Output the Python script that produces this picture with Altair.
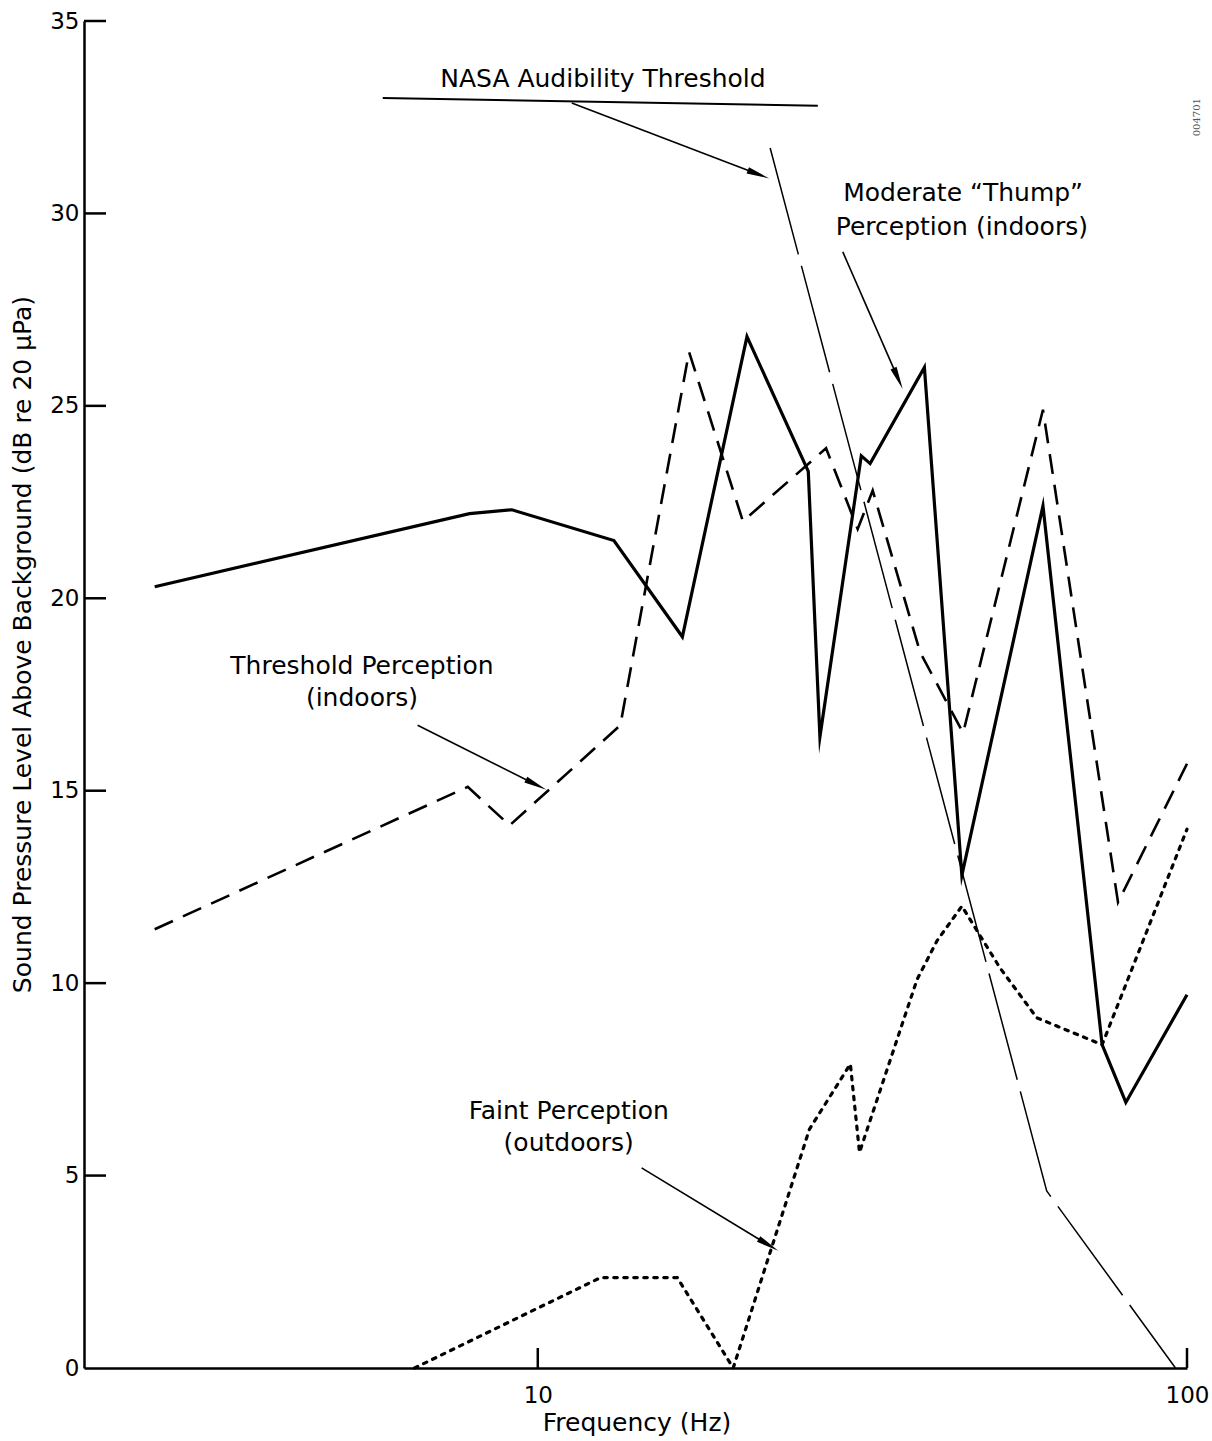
import math
import altair as alt
import pandas as pd

# Moderate "Thump" perception (indoors) - heavy solid curve
thump_hz = [2.57, 7.85, 9.12, 13.1, 16.7, 21.0, 26.1, 27.2, 31.5, 32.5, 39.4, 45.0, 60.0, 74.0, 80.5, 100.0]
thump_db = [20.3, 22.2, 22.3, 21.5, 19.0, 26.8, 23.3, 16.4, 23.7, 23.5, 26.0, 12.8, 22.4, 8.4, 6.9, 9.7]

# Threshold perception (indoors) - dashed curve
threshold_hz = [2.57, 7.8, 9.05, 13.4, 17.1, 20.7, 27.8, 31.1, 32.8, 38.8, 45.2, 60.0, 78.3, 100.0]
threshold_db = [11.4, 15.1, 14.1, 16.7, 26.4, 22.0, 23.9, 21.8, 22.8, 18.6, 16.5, 24.9, 12.1, 15.7]

# Faint perception (outdoors) - dotted curve
faint_hz = [6.46, 12.5, 16.4, 20.0, 26.2, 30.3, 31.3, 35.7, 38.4, 41.2, 45.0, 51.5, 58.7, 74.0, 100.0]
faint_db = [0.0, 2.35, 2.35, 0.0, 6.2, 7.9, 5.6, 8.5, 10.1, 11.1, 12.0, 10.4, 9.1, 8.4, 14.0]

# Thin long-dash curve falling through the plot
thin_hz = [22.8, 60.8, 96.0]
thin_db = [31.7, 4.6, 0.0]

# NASA audibility threshold level
nasa_hz = [5.77, 27.0]
nasa_db = [33.0, 32.8]

# Annotation labels (text, frequency, level)
label_text = ["NASA Audibility Threshold",
              "Moderate \u201cThump\u201d", "Perception (indoors)",
              "Threshold Perception", "(indoors)",
              "Faint Perception", "(outdoors)"]
label_hz = [12.6, 45.2, 45.0, 5.36, 5.36, 11.16, 11.16]
label_db = [33.5, 30.53, 29.64, 18.24, 17.4, 6.68, 5.85]

# Leader arrows: start and end points
arrow_hz0 = [11.28, 29.5, 6.53, 14.45]
arrow_db0 = [32.87, 29.0, 16.7, 5.2]
arrow_hz1 = [21.6, 35.7, 9.82, 22.4]
arrow_db1 = [31.05, 25.8, 15.2, 3.25]

y_ticks = [0, 5, 10, 15, 20, 25, 30, 35]
x_ticks = [10, 100]

W, H = 1103, 1347
X_MIN, X_MAX = 2.0, 100.0
Y_MIN, Y_MAX = 0.0, 35.0
FONT = "DejaVu Sans"
X_TITLE = "Frequency (Hz)"
Y_TITLE = "Sound Pressure Level Above Background (dB re 20 \u03bcPa)"

xs = alt.Scale(type="log", domain=[X_MIN, X_MAX], nice=False)
ys = alt.Scale(domain=[Y_MIN, Y_MAX], nice=False)

x_axis = alt.Axis(
    values=x_ticks, ticks=False, tickSize=0, grid=False, title=X_TITLE,
    labelFontSize=23, labelFont=FONT, labelColor="black", labelPadding=16,
    labelFlush=False, labelOverlap=False,
    titleFontSize=25, titleFont=FONT, titleFontWeight="normal", titleColor="black",
    titleX=W / 2 + 1, titleY=54, titleBaseline="middle",
    domainColor="black", domainWidth=2.5,
)
y_axis = alt.Axis(
    values=y_ticks, ticks=False, tickSize=0, grid=False, title=Y_TITLE,
    labelFontSize=23, labelFont=FONT, labelColor="black", labelPadding=5,
    labelFlush=False, labelOverlap=False,
    titleFontSize=25, titleFont=FONT, titleFontWeight="normal", titleColor="black",
    titleX=-62, titleY=623, titleAngle=270, titleBaseline="middle", titleAlign="center",
    domainColor="black", domainWidth=2.5,
)


def xenc(field="f"):
    return alt.X(f"{field}:Q", scale=xs, axis=x_axis, title=X_TITLE)


def yenc(field="db"):
    return alt.Y(f"{field}:Q", scale=ys, axis=y_axis, title=Y_TITLE)


def series(hz, db):
    return pd.DataFrame({"f": hz, "db": db, "i": range(len(hz))})


thump = alt.Chart(series(thump_hz, thump_db)).mark_line(
    color="black", strokeWidth=3.2, strokeJoin="miter", strokeMiterLimit=20
).encode(x=xenc(), y=yenc(), order="i:Q")

threshold = alt.Chart(series(threshold_hz, threshold_db)).mark_line(
    color="black", strokeWidth=2.6, strokeDash=[20, 11]
).encode(x=xenc(), y=yenc(), order="i:Q")

faint = alt.Chart(series(faint_hz, faint_db)).mark_line(
    color="black", strokeWidth=3.2, strokeDash=[3.5, 6.5], strokeCap="round"
).encode(x=xenc(), y=yenc(), order="i:Q")

thin = alt.Chart(series(thin_hz, thin_db)).mark_line(
    color="black", strokeWidth=1.5, strokeDash=[110, 12]
).encode(x=xenc(), y=yenc(), order="i:Q")

nasa = alt.Chart(series(nasa_hz, nasa_db)).mark_line(
    color="black", strokeWidth=2
).encode(x=xenc(), y=yenc(), order="i:Q")


# Arrow heads are rotated to follow each leader line on screen
def px(f):
    return W * (math.log10(f) - math.log10(X_MIN)) / (math.log10(X_MAX) - math.log10(X_MIN))


def py(v):
    return H * (1 - (v - Y_MIN) / (Y_MAX - Y_MIN))


angles = []
for a0, b0, a1, b1 in zip(arrow_hz0, arrow_db0, arrow_hz1, arrow_db1):
    dx = px(a1) - px(a0)
    dy = py(b1) - py(b0)
    angles.append((math.degrees(math.atan2(dx, -dy)) + 360) % 360)

arrows_df = pd.DataFrame({
    "f": arrow_hz0, "db": arrow_db0, "f1": arrow_hz1, "db1": arrow_db1, "ang": angles
})

shafts = alt.Chart(arrows_df).mark_rule(color="black", strokeWidth=1.6).encode(
    x=xenc("f"), y=yenc("db"), x2="f1:Q", y2="db1:Q"
)
heads = alt.Chart(arrows_df).mark_point(
    shape="wedge", filled=True, color="black", opacity=1, size=700
).encode(x=xenc("f1"), y=yenc("db1"), angle=alt.Angle("ang:Q", scale=None))

labels = alt.Chart(pd.DataFrame({"t": label_text, "f": label_hz, "db": label_db})).mark_text(
    font=FONT, fontSize=25, color="black", align="center", baseline="middle"
).encode(x=xenc(), y=yenc(), text="t:N")

tag = alt.Chart(pd.DataFrame({"t": ["004701"], "f": [103.6], "db": [32.5]})).mark_text(
    font="DejaVu Serif", fontSize=10, color="#555555", angle=270, baseline="middle"
).encode(x=xenc(), y=yenc(), text="t:N")

# Inward-pointing tick marks on both axes
ytick_marks = alt.Chart(pd.DataFrame({"db": y_ticks[1:]})).mark_rule(
    color="black", strokeWidth=2.5
).encode(y=yenc(), x=alt.value(0), x2=alt.value(22))

xtick_marks = alt.Chart(pd.DataFrame({"f": x_ticks})).mark_rule(
    color="black", strokeWidth=2.5
).encode(x=xenc(), y=alt.value(H), y2=alt.value(H - 20))

chart = alt.layer(
    nasa, thin, threshold, faint, thump, shafts, heads,
    labels, tag, ytick_marks, xtick_marks
).properties(
    width=W, height=H,
    autosize=alt.AutoSizeParams(type="none"),
    padding={"left": 84, "top": 21, "right": 25, "bottom": 73},
    background="white",
).configure_view(stroke=None)

chart.save("out.html", embed_options={"renderer": "svg", "actions": False})
